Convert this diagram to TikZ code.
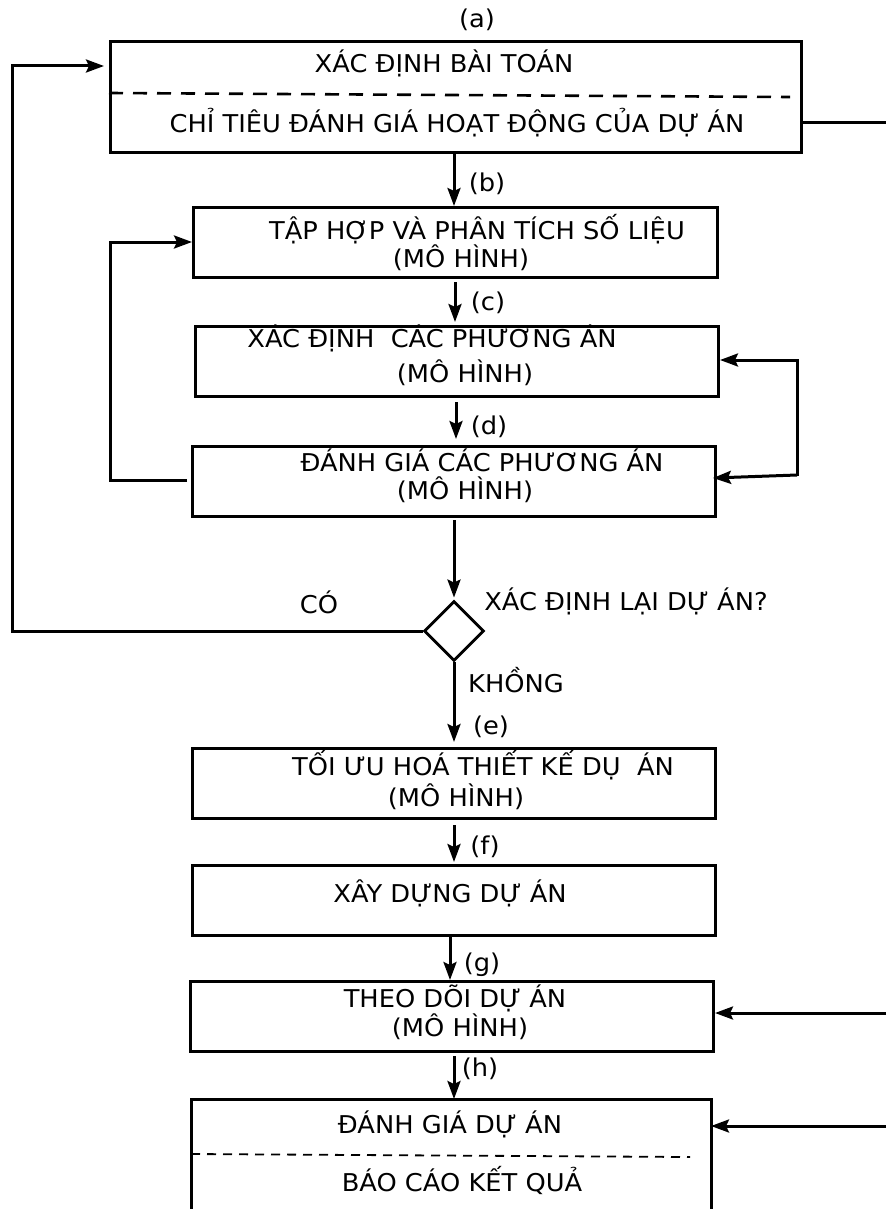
\documentclass[tikz,border=0pt]{standalone}
\usepackage{fontspec}
\setmainfont{DejaVu Sans}[FakeStretch=1.05]
\usetikzlibrary{arrows.meta,calc,shapes.geometric}
\begin{document}
\begin{tikzpicture}[x=1pt,y=-1pt,
  box/.style={draw,line width=3pt,minimum width=#1,inner sep=0pt,anchor=north west},
  lbl/.style={anchor=base,inner sep=0pt,font=\fontsize{24.5}{28}\selectfont},
  conn/.style={line width=3pt},
  arr/.style={line width=3pt,-{Stealth[length=18pt,width=13pt,inset=3pt]}},
  dsh/.style={line width=2.6pt,dash pattern=on 14pt off 10pt}]
\useasboundingbox (0,0) rectangle (886,1209);
% boxes
\node[box=691pt,minimum height=111pt] (A) at (109,40) {};
\node[box=524pt,minimum height=70pt] (B) at (192,206) {};
\node[box=523pt,minimum height=70pt] (C) at (194,325) {};
\node[box=523pt,minimum height=70pt] (D) at (191,445) {};
\node[draw,line width=2.8pt,diamond,minimum width=60pt,minimum height=60pt,inner sep=0pt] (Q) at (454,631) {};
\node[box=523pt,minimum height=70pt] (E) at (191,747) {};
\node[box=523pt,minimum height=70pt] (F) at (191,864) {};
\node[box=523pt,minimum height=70pt] (G) at (189,980) {};
% last box, open at the bottom
\coordinate (Hnw) at (191,1099);
\coordinate (Hne) at (711,1099);
\draw[line width=3pt] (191,1212) -- (Hnw) -- (Hne) -- (711,1212);
% dashed separators
\draw[dsh] (109,93) -- (790,97);
\draw[line width=1.8pt,dash pattern=on 9pt off 7pt] (191,1154) -- (690,1157);
% texts
\node[lbl] (ta) at (477,28) {(a)};
\node[lbl] (a1) at (444,73) {XÁC ĐỊNH BÀI TOÁN};
\node[lbl] (a2) at (457,133) {CHỈ TIÊU ĐÁNH GIÁ HOẠT ĐỘNG CỦA DỰ ÁN};
\node[lbl] (tb) at (487,191) {(b)};
\node[lbl] (b1) at (477,239) {TẬP HỢP VÀ PHÂN TÍCH SỐ LIỆU};
\node[lbl] (b2) at (461,267) {(MÔ HÌNH)};
\node[lbl] (tc) at (488,310) {(c)};
\node[lbl] (c1) at (432,347) {XÁC ĐỊNH\ \ CÁC PHƯƠNG ÁN};
\node[lbl] (c2) at (465,382) {(MÔ HÌNH)};
\node[lbl] (td) at (489,434) {(d)};
\node[lbl] (d1) at (482,471) {ĐÁNH GIÁ CÁC PHƯƠNG ÁN};
\node[lbl] (d2) at (465,499) {(MÔ HÌNH)};
\node[lbl] (co) at (319,613) {CÓ};
\node[lbl] (qq) at (626,610) {XÁC ĐỊNH LẠI DỰ ÁN?};
\node[lbl] (kh) at (516,692) {KHỒNG};
\node[lbl] (te) at (491,734) {(e)};
\node[lbl] (e1) at (483,775) {TỐI ƯU HOÁ THIẾT KẾ DỤ\ \ ÁN};
\node[lbl] (e2) at (456,806) {(MÔ HÌNH)};
\node[lbl] (tf) at (485,854) {(f)};
\node[lbl] (f1) at (450,902) {XÂY DỰNG DỰ ÁN};
\node[lbl] (tg) at (482,971) {(g)};
\node[lbl] (g1) at (455,1007) {THEO DÕI DỰ ÁN};
\node[lbl] (g2) at (460,1036) {(MÔ HÌNH)};
\node[lbl] (th) at (480,1076) {(h)};
\node[lbl] (h1) at (450,1133) {ĐÁNH GIÁ DỰ ÁN};
\node[lbl] (h2) at (462,1191) {BÁO CÁO KẾT QUẢ};
% vertical flow arrows (canvas y points up: negative yshift = down)
\draw[arr] (A.south -| 454,0) -- (B.north -| 454,0);
\draw[arr] ([yshift=-3pt]B.south -| 455,0) -- ([yshift=3pt]C.north -| 455,0);
\draw[arr] ([yshift=-4pt]C.south -| 456,0) -- ([yshift=6pt]D.north -| 456,0);
\draw[arr] ([yshift=-2pt]D.south -| 454,0) -- ([yshift=2pt]Q.north);
\draw[arr] (Q.south) -- ([yshift=5pt]E.north -| 454,0);
\draw[arr] ([yshift=-5pt]E.south -| 454,0) -- ([yshift=2pt]F.north -| 454,0);
\draw[arr] ([yshift=2pt]F.south -| 450,0) -- (G.north -| 450,0);
\draw[arr] ([yshift=-3pt]G.south -| 454,0) -- (Hnw -| 454,0);
% feedback loops
\draw[arr] (Q.west) -| (12,66) -- ([xshift=-5pt]A.west |- 0,66);
\draw[arr] ([xshift=-4pt]D.west |- 0,480) -| (110,242) -- (B.west |- 0,242);
\draw[arr] (797,475) -- ([xshift=-4pt]D.east |- 0,478);
\draw[arr] (797,476) -- (797,360) -- (C.east |- 0,360);
% links at the right edge
\draw[conn] (A.east |- 0,123) -- (886,123);
\draw[arr] (886,1013) -- (G.east |- 0,1013);
\draw[arr] (886,1126) -- (Hne |- 0,1126);
\end{tikzpicture}
\end{document}
